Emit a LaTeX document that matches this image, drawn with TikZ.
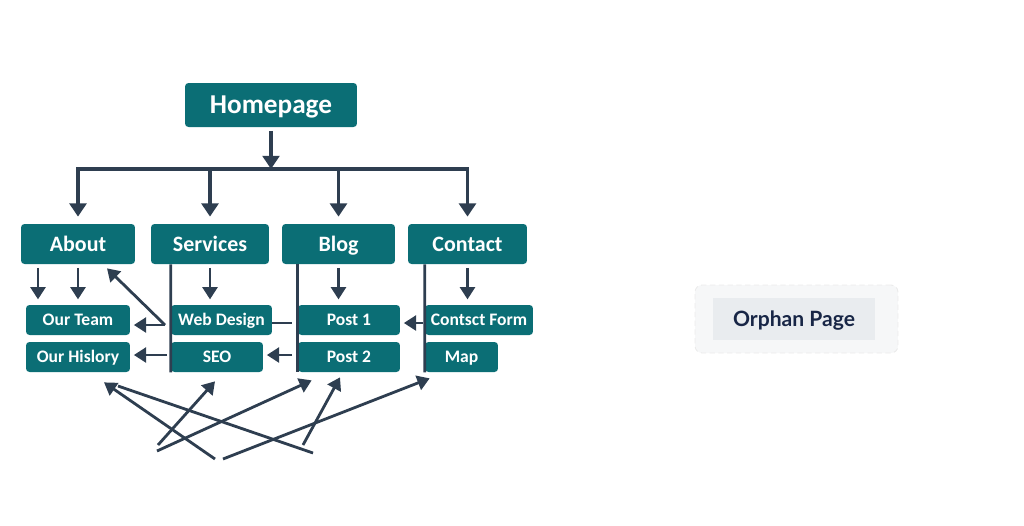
\documentclass[tikz,border=0pt]{standalone}
\usepackage{fontspec}
\setmainfont{Carlito}
\newfontfamily\latofont{Lato}
\usetikzlibrary{arrows.meta, positioning, calc}
\usepackage{xcolor}
\definecolor{pageteal}{RGB}{11, 110, 117}
\definecolor{linkslate}{RGB}{46, 62, 80}
\definecolor{orphanbg}{RGB}{246, 247, 248}
\definecolor{orphanin}{RGB}{233, 236, 239}
\definecolor{orphantext}{RGB}{24, 38, 70}

\begin{document}
\begin{tikzpicture}[
  x=0.02cm, y=-0.02cm,
  page/.style={rectangle, rounded corners=2pt, fill=pageteal, text=white, inner sep=0pt, text depth=0pt},
  toppage/.style={page, minimum height=0.88cm, text height=9.9pt, font=\fontsize{15.5}{18}\selectfont\bfseries},
  secpage/.style={page, minimum height=0.80cm, text height=8pt, font=\fontsize{12.5}{15}\selectfont\bfseries},
  subpage/.style={page, minimum height=0.60cm, text height=6.4pt, font=\fontsize{10}{12}\selectfont\bfseries},
  link/.style={draw=linkslate, line width=1.6pt},
  arr/.style={link, -{Triangle[length=7pt, width=8.5pt]}},
  bigarr/.style={draw=linkslate, line width=2pt, -{Triangle[length=7.5pt, width=9.5pt]}}
]
\useasboundingbox (0,0) rectangle (1024,525);

% site tree
\node[toppage, minimum width=3.44cm] (home) at (271,105) {Homepage};

\node[secpage, minimum width=2.28cm] (about)    at (78,244)    {About};
\node[secpage, minimum width=2.36cm] (services) at (210,244)   {Services};
\node[secpage, minimum width=2.26cm] (blog)     at (338.5,244) {Blog};
\node[secpage, minimum width=2.38cm] (contact)  at (467.5,244) {Contact};

\node[subpage, minimum width=2.08cm] (team)      at (78,320)    {Our Team};
\node[subpage, minimum width=2.08cm] (history)   at (78,357)    {Our Hislory};
\node[subpage, minimum width=2.02cm] (webdesign) at (221.5,320) {Web Design};
\node[subpage, minimum width=1.84cm] (seo)       at (217,357)   {SEO};
\node[subpage, minimum width=2.04cm] (post1)     at (349,320)   {Post 1};
\node[subpage, minimum width=2.04cm] (post2)     at (349,357)   {Post 2};
\node[subpage, minimum width=2.16cm] (form)      at (479,320)   {Contsct Form};
\node[subpage, minimum width=1.46cm] (map)       at (461.5,357) {Map};

% orphan
\node[draw=black!8, densely dashed, line width=0.5pt, fill=orphanbg, rounded corners=4pt,
      minimum width=4.06cm, minimum height=1.36cm] (orphanbox) at (796.5,319) {};
\node[fill=orphanin, minimum width=3.24cm, minimum height=0.84cm, text=orphantext,
      text height=8.6pt, text depth=0pt,
      font=\latofont\fontsize{12}{14}\selectfont\bfseries] (orphan) at (794,319) {Orphan Page};

% homepage bus
\coordinate (busL) at (78,169);
\coordinate (busR) at (467.5,169);
\draw[bigarr, shorten <=2pt] (home.south) -- (home.south |- busL);
\draw[draw=linkslate, line width=2pt, line cap=rect] (busL) -- (busR);
\foreach \n in {about, services, blog, contact}
  \draw[bigarr, shorten >=4pt] (\n.north |- busL) -- (\n.north);

% about
\coordinate (wdin)  at (165,325);
\coordinate (seoin) at (167,355);
\draw[arr, shorten <=2pt, shorten >=3pt] ($(about.south)+(-40,0)$) -- ($(team.north)+(-40,0)$);
\draw[arr, shorten <=2pt, shorten >=3pt] (about.south) -- (team.north);
\draw[arr] (wdin) -- ($(about.south)+(29,4)$);
\draw[arr, shorten >=2pt] (wdin) -- (team.east |- wdin);
\draw[arr, shorten >=2pt] (seoin) -- (history.east |- seoin);

% services
\draw[link] (services.south -| webdesign.west) -- (seo.south west);
\draw[arr, shorten <=2pt, shorten >=3pt] (services.south) -- (services.south |- webdesign.north);
\coordinate (wdout) at (292,323);
\draw[link] (webdesign.east |- wdout) -- (wdout);

% blog
\coordinate (p2out) at (292,355);
\draw[link] (blog.south -| post1.west) -- (post2.south west);
\draw[arr, shorten <=2pt, shorten >=3pt] (blog.south) -- (blog.south |- post1.north);
\draw[arr, shorten >=2pt] (p2out) -- (seo.east |- p2out);

% contact
\coordinate (fout) at (423,323);
\draw[link] (contact.south -| form.west) -- (map.south west);
\draw[arr, shorten <=2pt, shorten >=3pt] (contact.south) -- (contact.south |- form.north);
\draw[arr, shorten >=2pt] (fout) -- (post1.east |- fout);

% crossing links below
\coordinate (s1) at (215,459);
\coordinate (s2) at (118,386);
\coordinate (e2) at (313,453);
\coordinate (s3) at (158,445);
\coordinate (s4) at (157,451);
\coordinate (s5) at (223,459);
\coordinate (s6) at (303,445);
\draw[arr] (s1) -- ($(history.south)+(26,10)$);
\draw[link] (s2) -- (e2);
\draw[arr] (s3) -- ($(seo.south)+(-2,9)$);
\draw[arr] (s4) -- ($(post2.south west)+(14,8)$);
\draw[arr] (s5) -- ($(map.south west)+(5,6)$);
\draw[arr] (s6) -- ($(post2.south)+(-9,5)$);
\end{tikzpicture}
\end{document}
